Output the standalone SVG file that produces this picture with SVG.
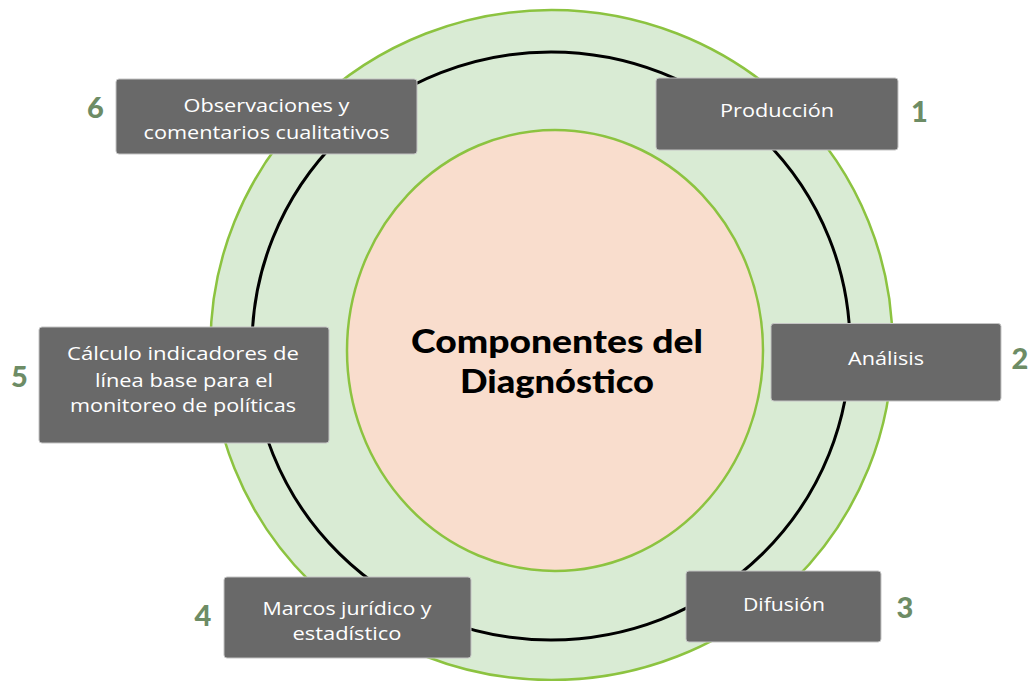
<svg xmlns="http://www.w3.org/2000/svg" width="1028" height="681" viewBox="0 0 1028 681">
<style>
.box{fill:#696969;stroke:#c4c4c4;stroke-width:1}
.lbl{font-family:"Open Sans","Liberation Sans",sans-serif;font-size:19px;fill:#ffffff;text-anchor:middle}
.num{font-family:Lato,"Liberation Sans",sans-serif;font-size:29px;font-weight:900;fill:#6d8c65;text-anchor:middle}
.title{font-family:Lato,"Liberation Sans",sans-serif;font-size:32px;font-weight:900;fill:#000000;text-anchor:middle}
</style>
<rect width="1028" height="681" fill="#ffffff"/>
<g id="rings">
<ellipse cx="551.5" cy="345" rx="341" ry="335" fill="#d9ebd4" stroke="#8cc340" stroke-width="2.5"/>
<ellipse cx="551" cy="346" rx="299" ry="294" fill="none" stroke="#000000" stroke-width="3"/>
</g>
<g id="center">
<ellipse cx="555" cy="350.5" rx="208" ry="220.5" fill="#f9ddcd" stroke="#8cc340" stroke-width="2.5"/>
<text class="title" x="557" y="353" textLength="292" lengthAdjust="spacingAndGlyphs">Componentes del</text>
<text class="title" x="557" y="393" textLength="194" lengthAdjust="spacingAndGlyphs">Diagnóstico</text>
</g>
<g id="connectors"></g>
<g id="n1">
<rect class="box" x="656" y="78" width="242" height="72" rx="3"/>
<text class="lbl" x="777" y="117" textLength="114" lengthAdjust="spacingAndGlyphs">Producción</text>
<text class="num" x="919.5" y="122">1</text>
</g>
<g id="n2">
<rect class="box" x="771" y="323.5" width="230" height="77.5" rx="3"/>
<text class="lbl" x="886" y="365" textLength="76" lengthAdjust="spacingAndGlyphs">Análisis</text>
<text class="num" x="1020" y="369">2</text>
</g>
<g id="n3">
<rect class="box" x="686" y="571" width="195" height="71" rx="3"/>
<text class="lbl" x="784" y="611" textLength="82" lengthAdjust="spacingAndGlyphs">Difusión</text>
<text class="num" x="905" y="618">3</text>
</g>
<g id="n4">
<rect class="box" x="224" y="577" width="247" height="81" rx="3"/>
<text class="lbl" x="347" y="614.5" textLength="169" lengthAdjust="spacingAndGlyphs">Marcos jurídico y</text>
<text class="lbl" x="347" y="640" textLength="109" lengthAdjust="spacingAndGlyphs">estadístico</text>
<text class="num" x="203" y="626">4</text>
</g>
<g id="n5">
<rect class="box" x="39" y="327" width="290" height="116" rx="3"/>
<text class="lbl" x="183" y="360" textLength="232" lengthAdjust="spacingAndGlyphs">Cálculo indicadores de</text>
<text class="lbl" x="184" y="386.5" textLength="178" lengthAdjust="spacingAndGlyphs">línea base para el</text>
<text class="lbl" x="183" y="412" textLength="226" lengthAdjust="spacingAndGlyphs">monitoreo de políticas</text>
<text class="num" x="19.5" y="387">5</text>
</g>
<g id="n6">
<rect class="box" x="116" y="79" width="301" height="75" rx="3"/>
<text class="lbl" x="266.5" y="112" textLength="166" lengthAdjust="spacingAndGlyphs">Observaciones y</text>
<text class="lbl" x="266.5" y="138.5" textLength="246" lengthAdjust="spacingAndGlyphs">comentarios cualitativos</text>
<text class="num" x="95.5" y="117.5">6</text>
</g>
</svg>
